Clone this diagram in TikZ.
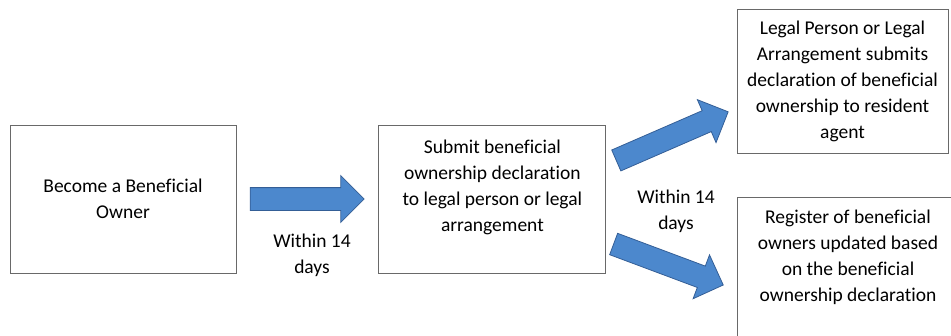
\documentclass[tikz,border=0pt]{standalone}
\usepackage{fontspec}
\setmainfont{Carlito}[Ligatures=NoCommon]
\usetikzlibrary{positioning,calc,shapes.arrows}
\definecolor{flowblue}{RGB}{76,136,205}
\definecolor{flowedge}{RGB}{52,94,150}
\definecolor{boxgray}{RGB}{105,105,105}

\begin{document}
\begin{tikzpicture}[x=1pt,y=-1pt,
  box/.style={draw=boxgray,line width=0.9pt,align=center,inner sep=4pt,font=\fontsize{19.5}{26}\selectfont},
  bigarr/.style={single arrow,draw=flowedge,line width=0.8pt,fill=flowblue,inner xsep=0pt,inner ysep=11pt,single arrow head extend=12pt},
  note/.style={align=center,font=\fontsize{19.5}{26}\selectfont}
]
\clip (0,0) rectangle (951,335);
\node[box,minimum width=226pt,minimum height=148pt] (owner) at (123,199) {Become a Beneficial\\Owner};
\node[box,minimum width=227pt,minimum height=148pt,right=142pt of owner] (submit) {Submit beneficial\\ownership declaration\\to legal person or legal\\arrangement\\~};
\node[box,minimum width=211pt,minimum height=144pt] (agent) at (842.5,81) {Legal Person or Legal\\Arrangement submits\\declaration of beneficial\\ownership to resident\\agent};
\node[box,minimum width=222pt,minimum height=170pt] (register) at (848,282) {Register of beneficial\\owners updated based\\on the beneficial\\ownership declaration\\~\\~};
\node[bigarr,minimum height=114pt,xshift=-6pt] (arr1) at ($(owner.east)!0.5!(submit.west)$) {};
\node[bigarr,minimum height=122pt,rotate=23.5] (arr2) at (667,138.4) {};
\node[bigarr,minimum height=117pt,rotate=-20.5] (arr3) at (663.1,262.5) {};
\node[note] (wait1) at (312,255) {Within 14\\days};
\node[note] (wait2) at (676,211) {Within 14\\days};
\end{tikzpicture}
\end{document}
